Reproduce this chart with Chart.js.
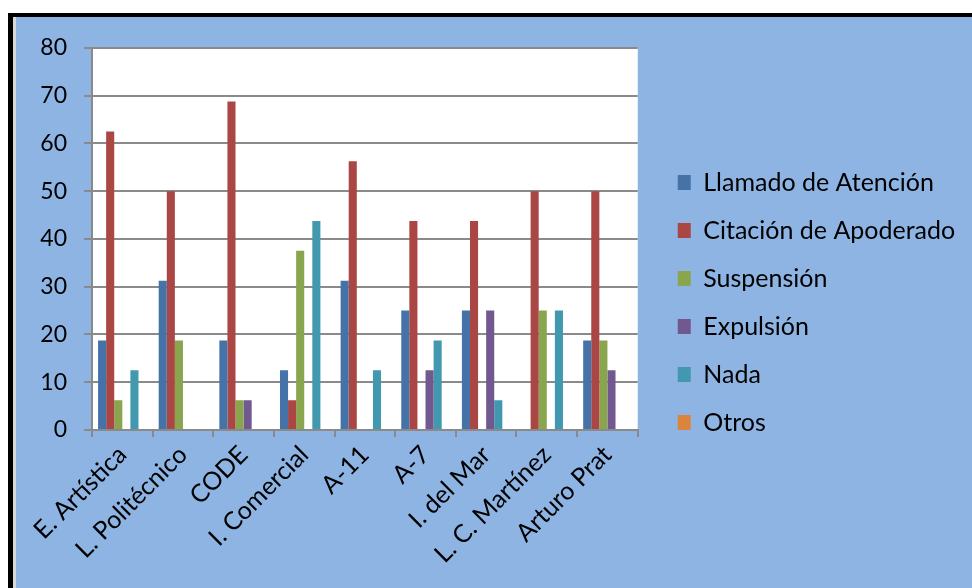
<!DOCTYPE html>
<html>
<head>
<meta charset="utf-8">
<script src="https://cdn.jsdelivr.net/npm/chart.js@4"></script>
<style>
  body { margin: 0; background: #fff; }
  #marco {
    position: absolute; left: 8px; top: 13px;
    border-left: 5px solid #000; border-top: 4px solid #000;
    padding-left: 3px; background: #d8d8d8;
  }
  #grafico { display: block; background: #8eb4e3; }
</style>
</head>
<body>
<div id="marco"><canvas id="grafico" width="956" height="571"></canvas></div>
<script>
// Datos (% por establecimiento)
const colegios = ['E. Artística', 'L. Politécnico', 'CODE', 'I. Comercial', 'A-11', 'A-7', 'I. del Mar', 'L. C. Martínez', 'Arturo Prat'];
const llamado    = [18.75, 31.25, 18.75, 12.5, 31.25, 25, 25, 0, 18.75];
const citacion   = [62.5, 50, 68.75, 6.25, 56.25, 43.75, 43.75, 50, 50];
const suspension = [6.25, 18.75, 6.25, 37.5, 0, 0, 0, 25, 18.75];
const expulsion  = [0, 0, 6.25, 0, 0, 12.5, 25, 0, 12.5];
const nada       = [12.5, 0, 0, 43.75, 12.5, 18.75, 6.25, 25, 0];
const otros      = [0, 0, 0, 0, 0, 0, 0, 0, 0];
const marcasY    = [0, 10, 20, 30, 40, 50, 60, 70, 80];

const gris = '#8a8a8a';

// fondo blanco del area de trazado
const fondoPlot = {
    id: 'fondoPlot',
    beforeDraw(chart) {
        const a = chart.chartArea;
        chart.ctx.save();
        chart.ctx.fillStyle = '#ffffff';
        chart.ctx.fillRect(a.left, a.top, a.right - a.left, a.bottom - a.top);
        chart.ctx.restore();
    }
};

// la leyenda ocupa todo el espacio a la derecha (si no, se recorta)
const leyendaAncha = {
    id: 'leyendaAncha',
    afterLayout(chart) {
        const lg = chart.legend;
        lg.left = chart.chartArea.right + 17;
        lg.right = chart.width;
        lg.width = lg.right - lg.left;
    }
};

Chart.defaults.font.family = 'Lato';
Chart.defaults.font.size = 23;
Chart.defaults.color = '#000';

const serie = (label, data, color) => ({
    label, data, backgroundColor: color, borderWidth: 0,
    categoryPercentage: 0.8, barPercentage: 1.0
});

new Chart(document.getElementById('grafico'), {
    type: 'bar',
    data: {
        labels: colegios,
        datasets: [
            serie('Llamado de Atención', llamado, '#4572a7'),
            serie('Citación de Apoderado', citacion, '#aa4643'),
            serie('Suspensión', suspension, '#89a54e'),
            serie('Expulsión', expulsion, '#71588f'),
            serie('Nada', nada, '#4198af'),
            serie('Otros', otros, '#db843d')
        ]
    },
    options: {
        responsive: false,
        animation: false,
        layout: { padding: { left: 0, right: 127, top: 0, bottom: 0 } },
        plugins: {
            title: {
                display: true, text: ' ', fullSize: false,
                font: { size: 10, lineHeight: 1.2 },
                padding: { top: 17, bottom: 0 }
            },
            legend: {
                position: 'right',
                align: 'center',
                labels: { boxWidth: 13, boxHeight: 15, padding: 23, color: '#000', font: { size: 25 } }
            },
            tooltip: { enabled: false }
        },
        scales: {
            x: {
                grid: { drawOnChartArea: false, color: gris, lineWidth: 2, tickLength: 7 },
                border: { color: gris, width: 2 },
                ticks: { autoSkip: false, maxRotation: 45, minRotation: 45, padding: 3, font: { size: 25 } },
                afterFit(s) { s.height = 158; }
            },
            y: {
                min: 0, max: 80,
                afterBuildTicks(s) { s.ticks = marcasY.map(v => ({ value: v })); },
                grid: { color: gris, lineWidth: 2, tickLength: 8 },
                border: { color: gris, width: 2 },
                ticks: { padding: 17 },
                afterFit(s) { s.width = 76; }
            }
        }
    },
    plugins: [fondoPlot, leyendaAncha]
});
</script>
</body>
</html>
